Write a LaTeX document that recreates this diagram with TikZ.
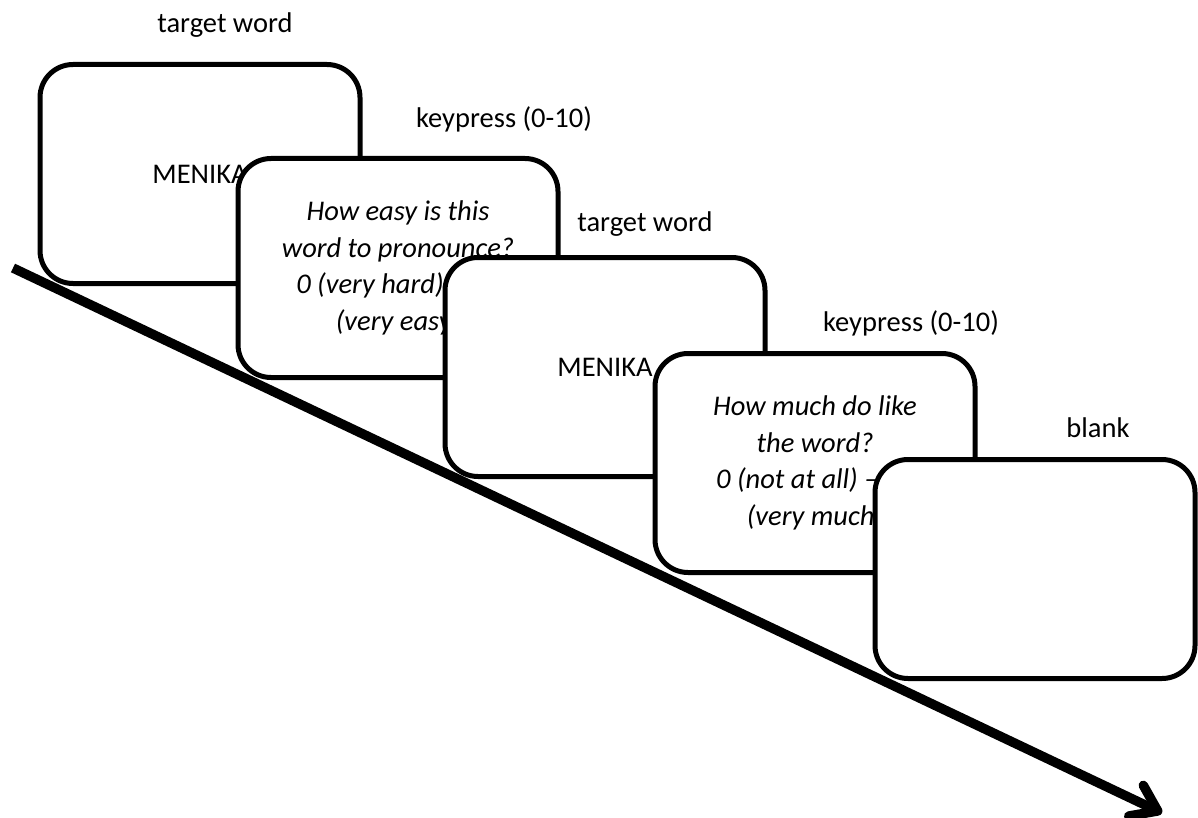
\documentclass[tikz,border=0pt]{standalone}
\usepackage{fontspec}
\setmainfont{Carlito}
\usetikzlibrary{arrows.meta}
\begin{document}
\begin{tikzpicture}[x=1pt,y=-1pt,
  screen/.style={draw=black, line width=5pt, fill=white, rounded corners=33pt,
    minimum width=320pt, minimum height=219pt, inner sep=0pt,
    font=\fontsize{28.5}{36.5}\selectfont},
  question/.style={screen, font=\fontsize{28.5}{36.5}\selectfont\itshape, align=center},
  lbl/.style={font=\fontsize{28.5}{36.5}\selectfont, inner sep=0pt, anchor=base},
  timeline/.style={line width=9.5pt, -{Straight Barb[length=24pt, width=34pt, round]}}
]
\useasboundingbox (0,0) rectangle (1198,818);

% labels
\node[lbl] (l1) at (225,33) {target word};
\node[lbl] (l2) at (504,128) {keypress (0-10)};
\node[lbl] (l3) at (645,232) {target word};
\node[lbl] (l4) at (911,331) {keypress (0-10)};
\node[lbl] (l5) at (1098,437) {blank};

% screens
\node[screen] (s1) at (200,174) {MENIKA};
\node[question] (s2) at (398,268) {How easy is this\\word to pronounce?\\0 (very hard) – 10\\(very easy)};
\node[screen] (s3) at (605,367) {MENIKA};
\node[question] (s4) at (815,463) {How much do like\\the word?\\0 (not at all) – 10\\(very much)};
\node[screen] (s5) at (1035,569) {};

% timeline arrow
\coordinate (a0) at (13,268);
\coordinate (a1) at (1162,813);
\draw[timeline] (a0) -- (a1);
\end{tikzpicture}
\end{document}
